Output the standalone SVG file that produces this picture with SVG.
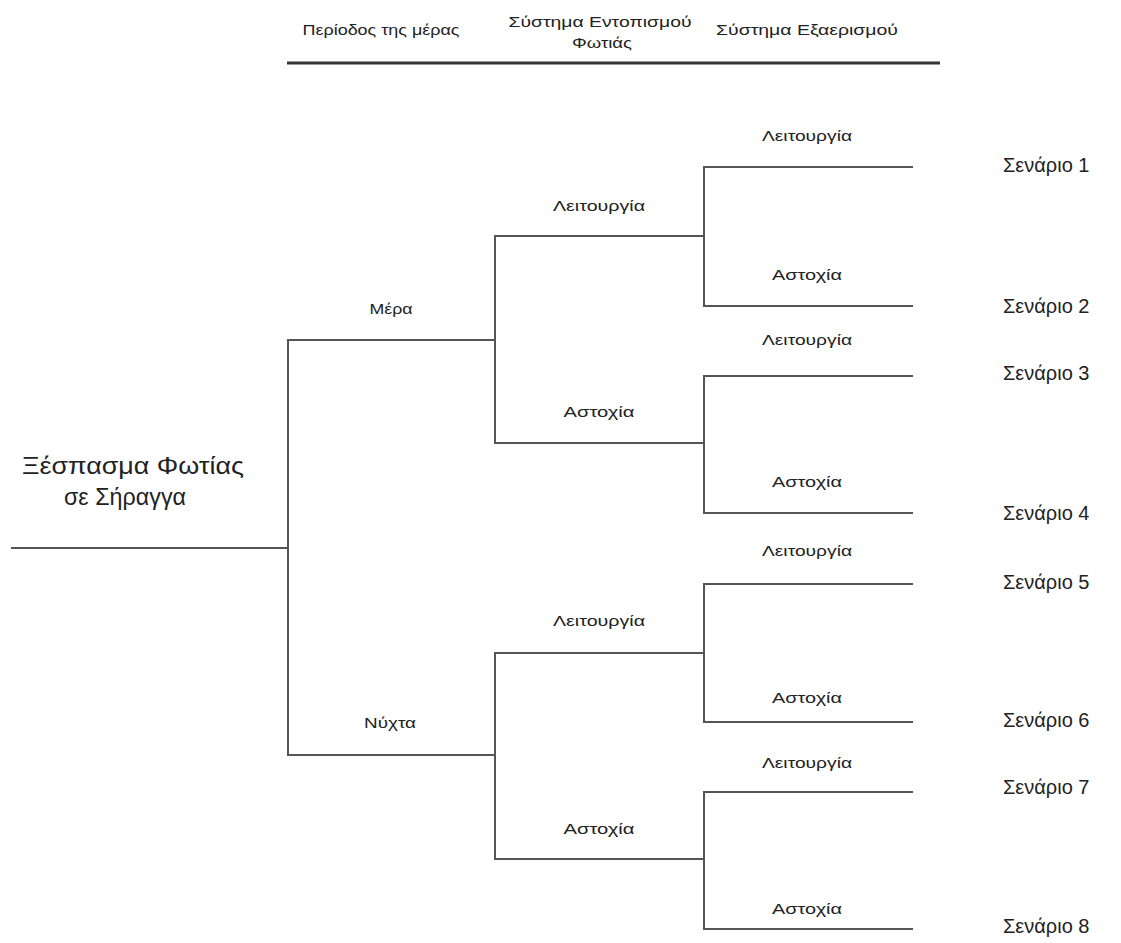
<svg xmlns="http://www.w3.org/2000/svg" width="1121" height="943" viewBox="0 0 1121 943">
  <style>
    .hdr { font-family: "Liberation Sans", Arial, sans-serif; font-size: 15px; fill: #222; text-anchor: middle; }
    .lbl { font-family: "Liberation Sans", Arial, sans-serif; font-size: 15px; fill: #222; text-anchor: middle; }
    .scn { font-family: "Liberation Sans", Arial, sans-serif; font-size: 20px; fill: #222; }
    .root { font-family: "Liberation Sans", Arial, sans-serif; font-size: 23px; fill: #222; text-anchor: middle; }
    .edge { fill: none; stroke: #555; stroke-width: 2; }
  </style>
  <rect width="1121" height="943" fill="#ffffff"/>

  <!-- column headings -->
  <g id="header">
    <text class="hdr" x="381" y="35" textLength="157" lengthAdjust="spacingAndGlyphs">Περίοδος της μέρας</text>
    <text class="hdr" x="600" y="27" textLength="183" lengthAdjust="spacingAndGlyphs">Σύστημα Εντοπισμού</text>
    <text class="hdr" x="602" y="48" textLength="60" lengthAdjust="spacingAndGlyphs">Φωτιάς</text>
    <text class="hdr" x="807" y="35" textLength="182" lengthAdjust="spacingAndGlyphs">Σύστημα Εξαερισμού</text>
    <line x1="287" y1="63" x2="940" y2="63" stroke="#333" stroke-width="3"/>
  </g>

  <!-- tree branches -->
  <g id="connectors">
    <line class="edge" x1="11" y1="548" x2="288" y2="548"/>
    <path class="edge" d="M495,340 H288 V755 H495"/>
    <path class="edge" d="M705,236 H495 V443 H705"/>
    <path class="edge" d="M705,653 H495 V859 H705"/>
    <path class="edge" d="M913,167 H704 V306 H913"/>
    <path class="edge" d="M913,376 H704 V513 H913"/>
    <path class="edge" d="M913,584 H704 V722 H913"/>
    <path class="edge" d="M913,792 H704 V929 H913"/>
  </g>

  <g id="root">
    <text class="root" x="133" y="474" textLength="222" lengthAdjust="spacingAndGlyphs">Ξέσπασμα Φωτίας</text>
    <text class="root" x="125" y="505" textLength="122" lengthAdjust="spacingAndGlyphs">σε Σήραγγα</text>
  </g>

  <g id="period">
    <text class="lbl" x="391" y="314" textLength="43" lengthAdjust="spacingAndGlyphs">Μέρα</text>
    <text class="lbl" x="390" y="728" textLength="52" lengthAdjust="spacingAndGlyphs">Νύχτα</text>
  </g>

  <g id="detection">
    <text class="lbl" x="599" y="211" textLength="92" lengthAdjust="spacingAndGlyphs">Λειτουργία</text>
    <text class="lbl" x="599" y="417" textLength="71" lengthAdjust="spacingAndGlyphs">Αστοχία</text>
    <text class="lbl" x="599" y="626" textLength="92" lengthAdjust="spacingAndGlyphs">Λειτουργία</text>
    <text class="lbl" x="599" y="834" textLength="71" lengthAdjust="spacingAndGlyphs">Αστοχία</text>
  </g>

  <g id="ventilation">
    <text class="lbl" x="807" y="141" textLength="90" lengthAdjust="spacingAndGlyphs">Λειτουργία</text>
    <text class="lbl" x="807" y="280" textLength="70" lengthAdjust="spacingAndGlyphs">Αστοχία</text>
    <text class="lbl" x="807" y="345" textLength="90" lengthAdjust="spacingAndGlyphs">Λειτουργία</text>
    <text class="lbl" x="807" y="487" textLength="70" lengthAdjust="spacingAndGlyphs">Αστοχία</text>
    <text class="lbl" x="807" y="556" textLength="90" lengthAdjust="spacingAndGlyphs">Λειτουργία</text>
    <text class="lbl" x="807" y="703" textLength="70" lengthAdjust="spacingAndGlyphs">Αστοχία</text>
    <text class="lbl" x="807" y="768" textLength="90" lengthAdjust="spacingAndGlyphs">Λειτουργία</text>
    <text class="lbl" x="807" y="914" textLength="70" lengthAdjust="spacingAndGlyphs">Αστοχία</text>
  </g>

  <g id="scenarios">
    <text class="scn" x="1003" y="172">Σενάριο 1</text>
    <text class="scn" x="1003" y="313">Σενάριο 2</text>
    <text class="scn" x="1003" y="380">Σενάριο 3</text>
    <text class="scn" x="1003" y="520">Σενάριο 4</text>
    <text class="scn" x="1003" y="589">Σενάριο 5</text>
    <text class="scn" x="1003" y="727">Σενάριο 6</text>
    <text class="scn" x="1003" y="794">Σενάριο 7</text>
    <text class="scn" x="1003" y="933">Σενάριο 8</text>
  </g>
</svg>
